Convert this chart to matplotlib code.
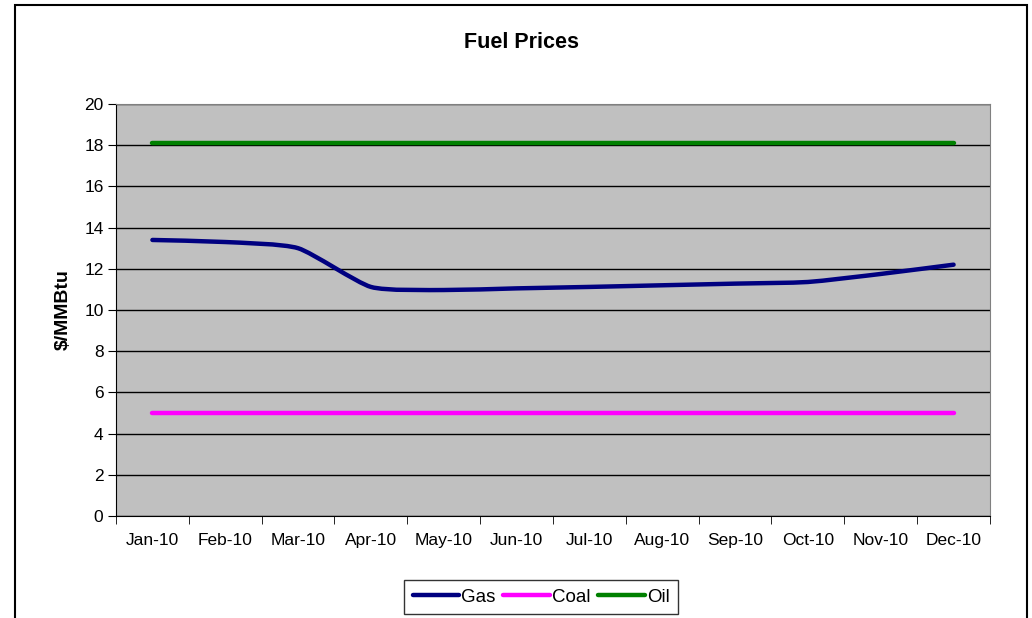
import numpy as np
import matplotlib.pyplot as plt
from matplotlib.path import Path
from matplotlib.patches import PathPatch, Rectangle
from matplotlib.lines import Line2D

plt.rcParams["font.family"] = ["Liberation Sans", "DejaVu Sans"]

MONTHS = ["Jan-10", "Feb-10", "Mar-10", "Apr-10", "May-10", "Jun-10",
          "Jul-10", "Aug-10", "Sep-10", "Oct-10", "Nov-10", "Dec-10"]
GAS = [13.4, 13.3, 13.0, 11.12, 10.97, 11.05, 11.12, 11.2, 11.28, 11.36, 11.75, 12.2]
COAL = [5.0] * 12
OIL = [18.1] * 12

GAS_COLOR = "#000080"
COAL_COLOR = "#FF00FF"
OIL_COLOR = "#008000"
LW = 3.2


def smooth_path(x, y, tension=0.1):
    """Excel-style smoothed line as cubic Bezier segments (Catmull-Rom)."""
    pts = np.column_stack([x, y]).astype(float)
    verts = [pts[0]]
    codes = [Path.MOVETO]
    n = len(pts)
    for i in range(n - 1):
        p0 = pts[i - 1] if i > 0 else pts[i]
        p1, p2 = pts[i], pts[i + 1]
        p3 = pts[i + 2] if i + 2 < n else pts[i + 1]
        c1 = p1 + (p2 - p0) * tension
        c2 = p2 - (p3 - p1) * tension
        verts += [c1, c2, p2]
        codes += [Path.CURVE4] * 3
    return Path(verts, codes)


fig = plt.figure(figsize=(10.32, 6.18), dpi=100)
ax = fig.add_axes([116 / 1032, 102 / 618, 874 / 1032, 412 / 618])
ax.set_facecolor("#C0C0C0")

x = np.arange(len(MONTHS))
ax.plot(x, OIL, color=OIL_COLOR, lw=LW, solid_capstyle="round", zorder=3)
ax.plot(x, COAL, color=COAL_COLOR, lw=LW, solid_capstyle="round", zorder=3)
ax.add_patch(PathPatch(smooth_path(x, GAS), facecolor="none", edgecolor=GAS_COLOR,
                       lw=LW, capstyle="round", zorder=4))

ax.set_xlim(-0.5, len(MONTHS) - 0.5)
ax.set_ylim(0, 20)
ax.set_yticks(range(0, 21, 2))
ax.set_xticks(x)
ax.set_xticklabels(MONTHS)
ax.set_xticks(np.arange(-0.5, len(MONTHS)), minor=True)
ax.tick_params(axis="x", which="major", length=0, pad=12, labelsize=12.5)
ax.tick_params(axis="x", which="minor", length=6, direction="out", color="black")
ax.tick_params(axis="y", length=6, direction="out", labelsize=12.5, pad=3)
ax.grid(axis="y", color="black", lw=1, zorder=1)
ax.set_axisbelow(True)

for side in ("top", "right"):
    ax.spines[side].set_color("#808080")
for side in ("left", "bottom"):
    ax.spines[side].set_color("black")

ax.set_ylabel("$/MMBtu", fontsize=14, fontweight="bold", labelpad=9)
fig.text(521 / 1032, 1 - 42 / 618, "Fuel Prices", ha="center", va="center",
         fontsize=15.5, fontweight="bold")

handles = [Line2D([], [], color=c, lw=LW, solid_capstyle="round")
           for c in (GAS_COLOR, COAL_COLOR, OIL_COLOR)]
leg = fig.legend(handles, ["Gas", "Coal", "Oil"], loc="center",
                 bbox_to_anchor=(541 / 1032, 1 - 597 / 618), ncol=3,
                 frameon=True, fancybox=False, fontsize=13.5,
                 handlelength=2.5, handletextpad=0.1, columnspacing=0.4,
                 borderpad=0.45)
leg.get_frame().set_edgecolor("black")
leg.get_frame().set_linewidth(1)

fig.patches.append(Rectangle((15 / 1032, -0.05), 1012 / 1032, 1.05 - 5 / 618,
                             transform=fig.transFigure, fill=False,
                             edgecolor="black", lw=1.5))

fig.savefig("out.png", dpi=100)
